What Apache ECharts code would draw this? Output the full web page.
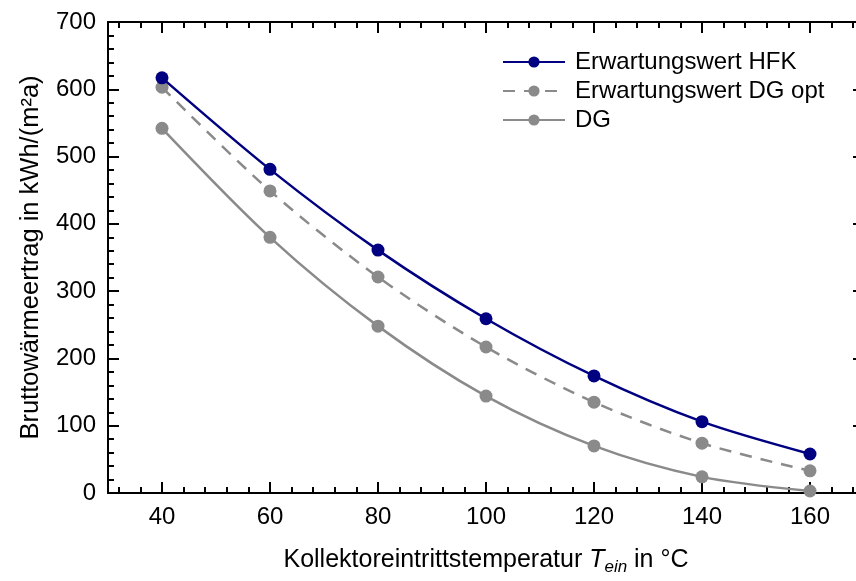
<!DOCTYPE html>
<html>
<head>
<meta charset="utf-8">
<script src="https://cdn.jsdelivr.net/npm/echarts@6/dist/echarts.min.js"></script>
<style>html,body{margin:0;padding:0;background:#fff}#c{width:856px;height:581px}</style>
</head>
<body>
<div id="c"></div>
<script>
var temps = [40, 60, 80, 100, 120, 140, 160];
var hfk = [617, 481, 361, 259, 174, 106, 58];
var dgOpt = [603, 449, 321, 217, 135, 74, 33];
var dg = [542, 380, 248, 144, 70, 24, 3];
var xMajor = [40, 60, 80, 100, 120, 140, 160];
var xMinor = [32, 36, 44, 48, 52, 56, 64, 68, 72, 76, 84, 88, 92, 96, 104, 108, 112, 116, 124, 128, 132, 136, 144, 148, 152, 156, 164, 168];
var seriesNames = ['Erwartungswert HFK', 'Erwartungswert DG opt', 'DG'];

function pairs(v) { return temps.map(function (t, i) { return [t, v[i]]; }); }

var font = 'Liberation Sans, Arial, sans-serif';
var blk = '#000';
function xAx(pos, vals, len, showLine, showLabel) {
  return {
    type: 'value', position: pos, min: 30, max: 170,
    axisLine: { show: showLine, onZero: false, lineStyle: { color: blk, width: 2 } },
    axisTick: { show: true, inside: true, length: len, customValues: vals, lineStyle: { color: blk, width: 2 } },
    axisLabel: { show: showLabel, customValues: xMajor, color: blk, fontSize: 24, fontFamily: font, margin: 12 },
    splitLine: { show: false }
  };
}
var xAxes = [xAx('bottom', xMajor, 11, true, true), xAx('bottom', xMinor, 6, false, false), xAx('top', xMajor, 11, true, false), xAx('top', xMinor, 6, false, false)];
xAxes[0].name = '{n|Kollektoreintrittstemperatur }{i|T}{s|ein}{n| in °C}';
xAxes[0].nameLocation = 'middle';
xAxes[0].nameGap = 52;
xAxes[0].nameTextStyle = {
  rich: {
    n: { fontSize: 25, fontFamily: font, color: blk },
    i: { fontSize: 25, fontFamily: font, color: blk, fontStyle: 'italic' },
    s: { fontSize: 17, fontFamily: font, color: blk, fontStyle: 'italic', padding: [14, 0, 0, 0] }
  }
};
function yAx(pos, showLabel) {
  return {
    type: 'value', position: pos, min: 0, max: 700, interval: 100,
    axisLine: { show: true, onZero: false, lineStyle: { color: blk, width: 2 } },
    axisTick: { show: true, inside: true, length: 11, lineStyle: { color: blk, width: 2 } },
    minorTick: { show: true, splitNumber: 5, length: 6, lineStyle: { color: blk, width: 2 } },
    axisLabel: { show: showLabel, color: blk, fontSize: 24, fontFamily: font, margin: 12 },
    splitLine: { show: false }, minorSplitLine: { show: false }
  };
}
var yAxes = [yAx('left', true), yAx('right', false)];
yAxes[0].name = 'Bruttowärmeertrag in kWh/(m²a)';
yAxes[0].nameLocation = 'middle';
yAxes[0].nameGap = 64;
yAxes[0].nameTextStyle = { fontSize: 25.5, fontFamily: font, color: blk };

var chart = echarts.init(document.getElementById('c'), null, { renderer: 'canvas' });
chart.setOption({
  animation: false,
  backgroundColor: '#fff',
  grid: { left: 108, width: 756, top: 22, height: 471, containLabel: false, outerBoundsMode: 'none' },
  legend: {
    orient: 'vertical', left: 497, top: 45, itemWidth: 62, itemHeight: 14, itemGap: 5,
    textStyle: { fontSize: 24, fontFamily: font, color: blk, padding: [0, 0, 0, 5] },
    data: seriesNames
  },
  xAxis: xAxes,
  yAxis: yAxes,
  series: [
    { name: seriesNames[0], type: 'line', data: pairs(hfk), smooth: 0.3, symbol: 'circle', symbolSize: 13,
      itemStyle: { color: '#000080' }, lineStyle: { color: '#000080', width: 2.5 }, z: 5 },
    { name: seriesNames[1], type: 'line', data: pairs(dgOpt), smooth: 0.3, symbol: 'circle', symbolSize: 13,
      itemStyle: { color: '#8a8a8a' }, lineStyle: { color: '#8a8a8a', width: 2.5, type: [12, 9] }, z: 4 },
    { name: seriesNames[2], type: 'line', data: pairs(dg), smooth: 0.3, symbol: 'circle', symbolSize: 13,
      itemStyle: { color: '#8a8a8a' }, lineStyle: { color: '#8a8a8a', width: 2.5 }, z: 3 }
  ]
});
</script>
</body>
</html>
